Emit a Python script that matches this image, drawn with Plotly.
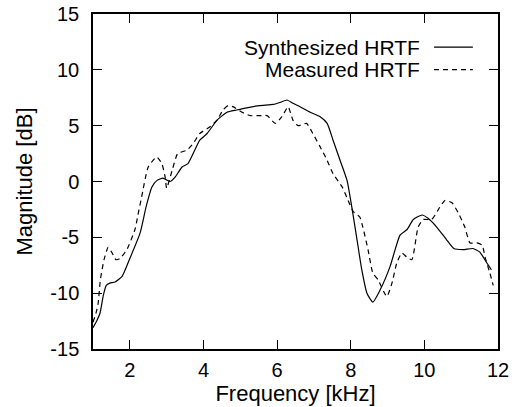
import plotly.graph_objects as go

# Synthesized HRTF (solid)
synth_freq = [1.0, 1.1, 1.19, 1.28, 1.36, 1.46, 1.6, 1.79, 2.0, 2.28, 2.44, 2.6, 2.74, 2.9,
              3.09, 3.23, 3.42, 3.58, 3.9, 4.1, 4.37, 4.64, 4.9, 5.18, 5.53, 5.9, 6.1, 6.27,
              6.43, 6.62, 6.9, 7.17, 7.36, 7.52, 7.71, 7.9, 8.03, 8.17, 8.3, 8.44, 8.6, 8.8,
              9.07, 9.34, 9.53, 9.7, 9.94, 10.1, 10.34, 10.6, 10.8, 11.05, 11.32, 11.5, 11.7, 11.82]
synth_mag = [-13.1, -12.5, -11.8, -10.2, -9.3, -9.1, -9.0, -8.5, -6.9, -4.6, -2.3, -0.5, 0.1, 0.3,
             0.0, 0.4, 1.3, 1.6, 3.7, 4.3, 5.5, 6.2, 6.4, 6.6, 6.8, 6.9, 7.1, 7.3,
             7.0, 6.7, 6.2, 5.8, 5.2, 3.7, 1.9, 0.1, -2.3, -5.2, -7.9, -10.0, -10.8, -9.7,
             -7.6, -4.8, -4.3, -3.4, -3.0, -3.3, -4.1, -5.2, -6.0, -6.1, -6.0, -6.3, -7.3, -7.9]

# Measured HRTF (dashed)
meas_freq = [1.0, 1.08, 1.14, 1.2, 1.3, 1.41, 1.52, 1.62, 1.73, 1.92, 2.14, 2.22, 2.32, 2.5,
             2.73, 2.87, 2.96, 3.0, 3.15, 3.3, 3.55, 3.72, 3.9, 4.18, 4.37, 4.53, 4.67, 4.8,
             5.05, 5.27, 5.53, 5.73, 5.95, 6.13, 6.3, 6.43, 6.57, 6.8, 6.97, 7.17, 7.36, 7.52,
             7.77, 7.93, 8.07, 8.25, 8.33, 8.47, 8.6, 8.74, 8.98, 9.12, 9.25, 9.39, 9.53, 9.66,
             9.83, 9.97, 10.2, 10.42, 10.56, 10.75, 10.92, 11.1, 11.24, 11.43, 11.57, 11.65, 11.78, 11.87]
meas_mag = [-12.6, -11.8, -10.9, -8.8, -7.0, -5.9, -6.4, -7.0, -6.9, -6.1, -4.3, -3.0, -1.4, 1.3,
            2.2, 1.6, 0.4, -0.6, 1.0, 2.5, 2.8, 3.4, 4.3, 4.9, 5.5, 6.4, 6.8, 6.7,
            6.2, 5.9, 5.9, 5.9, 5.2, 5.8, 6.7, 5.5, 5.0, 5.2, 4.3, 3.1, 1.9, 0.7,
            -0.5, -1.7, -2.7, -3.2, -4.1, -6.1, -8.2, -8.8, -10.3, -9.1, -7.3, -6.4, -6.8, -7.0,
            -4.1, -3.4, -3.4, -2.3, -1.7, -1.9, -2.8, -4.1, -5.5, -5.5, -5.7, -6.8, -8.2, -9.3]

x_ticks = [2, 4, 6, 8, 10, 12]
y_ticks = [-15, -10, -5, 0, 5, 10, 15]
legend_labels = ["Synthesized HRTF", "Measured HRTF"]

FONT = "Liberation Sans, Arial, Helvetica, sans-serif"

fig = go.Figure()
fig.add_trace(go.Scatter(x=synth_freq, y=synth_mag, mode="lines", name=legend_labels[0],
                         line=dict(color="black", width=1.2, shape="spline", smoothing=0.5),
                         showlegend=False))
fig.add_trace(go.Scatter(x=meas_freq, y=meas_mag, mode="lines", name=legend_labels[1],
                         line=dict(color="black", width=1.2, dash="5px,4px", shape="spline", smoothing=0.5),
                         showlegend=False))

# gnuplot-style legend: text then sample line
leg_y = [0.901, 0.834]
dashes = ["solid", "5px,4px"]
for lab, yy, d in zip(legend_labels, leg_y, dashes):
    fig.add_annotation(x=0.81, y=yy, xref="paper", yref="paper", text=lab, showarrow=False,
                       xanchor="right", yanchor="middle", borderpad=0,
                       font=dict(size=21, color="black", family=FONT))
    fig.add_shape(type="line", xref="paper", yref="paper", x0=0.842, x1=0.938, y0=yy, y1=yy,
                  line=dict(color="black", width=1.2, dash=d))

axis_common = dict(showline=True, linecolor="black", linewidth=1.5, mirror="ticks",
                   ticks="inside", ticklen=9, tickwidth=1.2, tickcolor="black",
                   showgrid=False, zeroline=False,
                   tickfont=dict(size=20, color="black", family=FONT))

fig.update_xaxes(range=[1, 12], tickvals=x_ticks, ticktext=[str(v) for v in x_ticks],
                 title=dict(text="Frequency [kHz]", font=dict(size=22, color="black", family=FONT), standoff=2),
                 ticklabelstandoff=2, **axis_common)
fig.update_yaxes(range=[-15, 15], tickvals=y_ticks, ticktext=[str(v) for v in y_ticks],
                 title=dict(text="Magnitude [dB]", font=dict(size=22, color="black", family=FONT), standoff=12),
                 ticklabelstandoff=8, **axis_common)

fig.update_layout(width=520, height=407, margin=dict(l=93, r=22, t=14, b=58, autoexpand=False),
                  plot_bgcolor="white", paper_bgcolor="white",
                  font=dict(family=FONT, color="black"))

fig.write_html("out.html")
